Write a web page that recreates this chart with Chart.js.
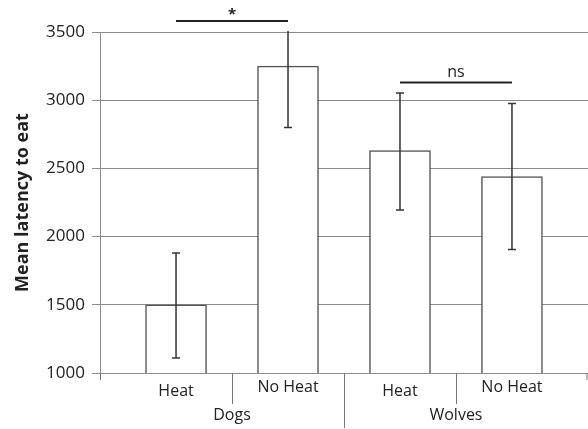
<!DOCTYPE html>
<html>
<head>
<meta charset="utf-8">
<script src="https://cdn.jsdelivr.net/npm/chart.js@4.4.1/dist/chart.umd.min.js"></script>
<style>
  html, body { margin: 0; padding: 0; background: #fff; }
  #wrap { width: 588px; height: 429px; }
</style>
</head>
<body>
<div id="wrap"><canvas id="chart"></canvas></div>
<script>
// ---- data ----
const categories = ['Heat', 'No Heat', 'Heat', 'No Heat'];
const groups     = ['Dogs', 'Wolves'];
const means      = [1500, 3250, 2630, 2440];
const errLow     = [1110, 2800, 2195, 1905];
const errHigh    = [1880, 3700, 3053, 2975];
const yTicks     = [1000, 1500, 2000, 2500, 3000, 3500];
// significance brackets: [from index, to index, height, label]
const brackets   = [[0, 1, 3580, '*'], [2, 3, 3130, 'ns']];

const FONT = '"Open Sans", Lato, sans-serif';
const INK  = '#222';

// error bars, brackets, multi level category axis
const extras = {
  id: 'extras',
  afterDatasetsDraw(chart) {
    const { ctx, chartArea: a, scales: { x, y } } = chart;
    const bars = chart.getDatasetMeta(0).data;

    // error bars (clipped at plot top)
    ctx.save();
    ctx.beginPath();
    ctx.rect(a.left, a.top - 1, a.right - a.left, a.bottom - a.top + 2);
    ctx.clip();
    ctx.strokeStyle = '#333';
    ctx.lineWidth = 1.5;
    bars.forEach((b, i) => {
      const y0 = y.getPixelForValue(errLow[i]), y1 = y.getPixelForValue(errHigh[i]);
      ctx.beginPath();
      ctx.moveTo(b.x, y0); ctx.lineTo(b.x, y1);
      ctx.moveTo(b.x - 4, y0); ctx.lineTo(b.x + 4, y0);
      ctx.moveTo(b.x - 4, y1); ctx.lineTo(b.x + 4, y1);
      ctx.stroke();
    });
    ctx.restore();

    // significance lines
    ctx.save();
    ctx.strokeStyle = '#222';
    ctx.fillStyle = INK;
    ctx.lineWidth = 2;
    ctx.textAlign = 'center';
    ctx.textBaseline = 'bottom';
    brackets.forEach(([f, t, v, lbl]) => {
      const py = y.getPixelForValue(v);
      const x0 = x.getPixelForValue(f), x1 = x.getPixelForValue(t);
      ctx.beginPath(); ctx.moveTo(x0, py); ctx.lineTo(x1, py); ctx.stroke();
      ctx.font = (lbl === '*' ? 'bold 15px ' : '16px ') + FONT;
      ctx.fillText(lbl, (x0 + x1) / 2, py + (lbl === '*' ? 1 : -2));
    });
    ctx.restore();

    // category axis: ticks and two rows of labels
    ctx.save();
    ctx.strokeStyle = '#777';
    ctx.lineWidth = 1;
    const tick = (px, len) => {
      ctx.beginPath(); ctx.moveTo(px, a.bottom); ctx.lineTo(px, a.bottom + len); ctx.stroke();
    };
    tick(a.left + 0.5, 7);
    tick(a.right - 1, 7);
    for (let i = 0; i < categories.length - 1; i++) {
      const px = Math.round(x.getPixelForValue(i + 0.5)) + 0.5;
      tick(px, i % 2 === 1 ? 55 : 31);
    }
    ctx.fillStyle = INK;
    ctx.textAlign = 'center';
    ctx.textBaseline = 'middle';
    ctx.font = '16px ' + FONT;
    categories.forEach((c, i) => {
      ctx.fillText(c, x.getPixelForValue(i), a.bottom + (c === 'Heat' ? 18 : 14));
    });
    groups.forEach((g, k) => {
      ctx.fillText(g, x.getPixelForValue(k * 2 + 0.5), a.bottom + 42);
    });
    ctx.restore();
  }
};

new Chart(document.getElementById('chart'), {
  type: 'bar',
  data: {
    datasets: [{
      data: means.map((m, i) => ({ x: i, y: m })),
      backgroundColor: '#fff',
      borderColor: '#555',
      borderWidth: 1.5,
      barThickness: 61
    }]
  },
  options: {
    responsive: true,
    maintainAspectRatio: false,
    animation: false,
    layout: { padding: { top: 32, right: 0, bottom: 56, left: 0 } },
    plugins: { legend: { display: false }, tooltip: { enabled: false } },
    scales: {
      x: {
        type: 'linear',
        offset: false,
        min: -0.679, max: 3.679,
        display: false
      },
      y: {
        min: 1000, max: 3500,
        afterBuildTicks: s => { s.ticks = yTicks.map(v => ({ value: v })); },
        afterFit: s => { s.width = 100; },
        grid: { color: '#8c8c8c', lineWidth: 1, tickLength: 8 },
        border: { color: '#8c8c8c' },
        ticks: { color: INK, padding: 7, font: { family: FONT, size: 17 }, callback: v => String(v) },
        title: {
          display: true,
          text: 'Mean latency to eat',
          color: INK,
          padding: { top: 12, bottom: 0 },
          font: { family: FONT, size: 18, weight: 'bold' }
        }
      }
    }
  },
  plugins: [extras]
});
</script>
</body>
</html>
